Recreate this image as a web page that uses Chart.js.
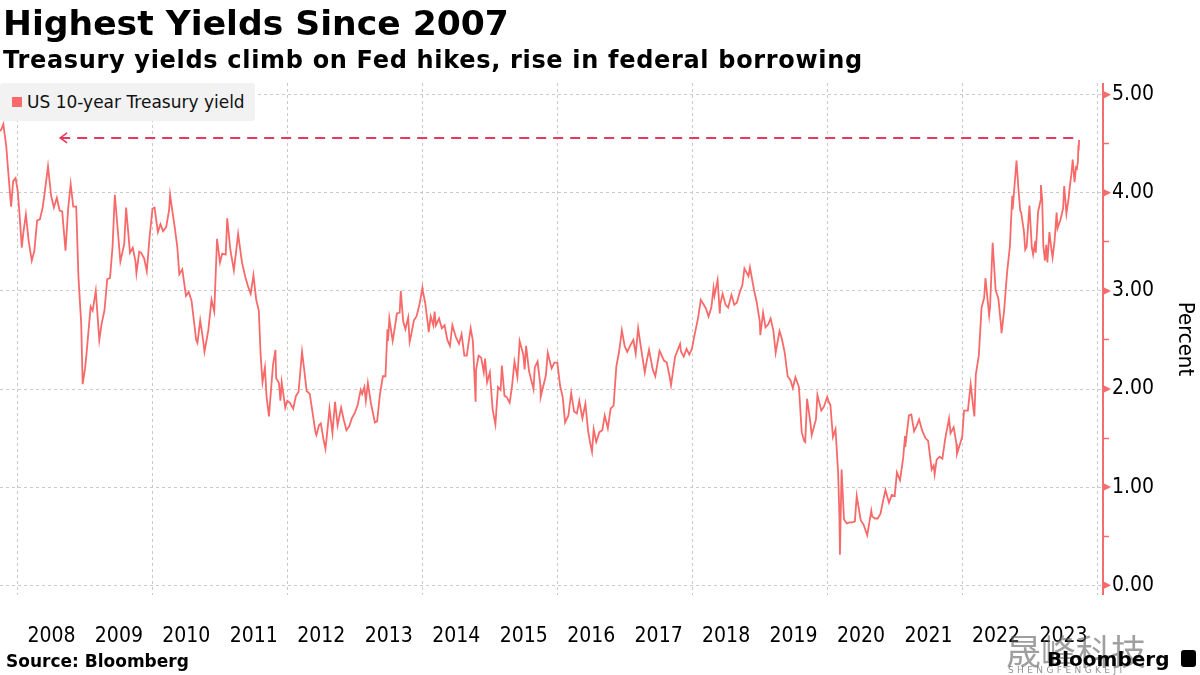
<!DOCTYPE html>
<html>
<head>
<meta charset="utf-8">
<script src="https://cdn.jsdelivr.net/npm/chart.js@4/dist/chart.umd.min.js"></script>
<style>
  body { margin: 0; width: 1200px; height: 675px; overflow: hidden; background: #fff; position: relative; font-family: "DejaVu Sans", sans-serif; }
  #chart { position: absolute; left: 0; top: 0; }
  .abs { position: absolute; white-space: nowrap; color: #000; }
  #title { left: 3px; top: 3px; font-size: 34.6px; line-height: 40px; font-weight: bold; }
  #subtitle { left: 3px; top: 46px; font-size: 24px; line-height: 28px; font-weight: bold; letter-spacing: 0.68px; }
  #legend { left: 0; top: 83px; width: 255px; height: 38px; background: #f2f2f2; border-radius: 3px; }
  #legend .sw { position: absolute; left: 12px; top: 14px; width: 10px; height: 10px; background: #f86a6a; }
  #legend .tx { position: absolute; left: 27px; top: 8px; font-size: 17px; line-height: 22px; color: #111; }
  #source { left: 6px; top: 651px; font-size: 17px; line-height: 20px; font-weight: bold; }
  #logo { left: 1047px; top: 648px; font-size: 20px; line-height: 22px; font-weight: bold; }
  #icon { left: 1181px; top: 650px; width: 15px; height: 17px; background: #000; border-radius: 3px; }
  #wm { left: 1006px; top: 630px; font-size: 35px; line-height: 40px; color: rgba(95,95,95,0.6); font-family: "Noto Sans CJK SC", sans-serif; }
  #wm2 { left: 1008px; top: 665px; font-size: 9px; line-height: 11px; letter-spacing: 3.4px; color: rgba(110,110,110,0.75); }
</style>
</head>
<body>
<canvas id="chart" width="1200" height="675"></canvas>
<div class="abs" id="title">Highest Yields Since 2007</div>
<div class="abs" id="subtitle">Treasury yields climb on Fed hikes, rise in federal borrowing</div>
<div class="abs" id="legend"><div class="sw"></div><div class="tx">US 10-year Treasury yield</div></div>
<div class="abs" id="source">Source: Bloomberg</div>
<div class="abs" id="wm">晟峰科技</div>
<div class="abs" id="wm2">SHENGFENGKEJI</div>
<div class="abs" id="logo">Bloomberg</div>
<div class="abs" id="icon"></div>
<script>
// US 10-year Treasury yield, percent
const dates = [
  '2007-09-26','2007-10-05','2007-10-15','2007-10-31','2007-11-08','2007-11-26','2007-12-07','2007-12-20','2007-12-31',
  '2008-01-10','2008-01-23','2008-01-31','2008-02-14','2008-02-29','2008-03-17','2008-03-31','2008-04-15','2008-04-30','2008-05-15','2008-05-30','2008-06-13','2008-06-30','2008-07-15','2008-07-31','2008-08-15','2008-08-29','2008-09-16','2008-09-30','2008-10-14','2008-10-28','2008-11-13','2008-11-25','2008-12-10','2008-12-18','2008-12-31',
  '2009-01-09','2009-01-30','2009-02-10','2009-02-27','2009-03-18','2009-03-31','2009-04-15','2009-04-30','2009-05-15','2009-05-29','2009-06-10','2009-06-30','2009-07-10','2009-07-31','2009-08-10','2009-08-31','2009-09-15','2009-09-30','2009-10-05','2009-10-20','2009-10-30','2009-11-16','2009-11-30','2009-12-15','2009-12-31',
  '2010-01-11','2010-01-29','2010-02-12','2010-02-26','2010-03-15','2010-03-31','2010-04-05','2010-04-20','2010-04-30','2010-05-14','2010-05-25','2010-06-10','2010-06-30','2010-07-15','2010-07-30','2010-08-13','2010-08-24','2010-08-31','2010-09-15','2010-09-30','2010-10-08','2010-10-29','2010-11-15','2010-11-30','2010-12-15','2010-12-31',
  '2011-01-12','2011-01-31','2011-02-08','2011-02-25','2011-03-16','2011-03-31','2011-04-08','2011-04-29','2011-05-16','2011-05-31','2011-06-15','2011-06-30','2011-07-15','2011-07-29','2011-08-08','2011-08-18','2011-08-31','2011-09-09','2011-09-22','2011-09-30','2011-10-14','2011-10-27','2011-10-31','2011-11-15','2011-11-23','2011-11-30','2011-12-19','2011-12-30',
  '2012-01-13','2012-01-31','2012-02-15','2012-02-29','2012-03-19','2012-03-30','2012-04-13','2012-04-30','2012-05-15','2012-05-31','2012-06-05','2012-06-19','2012-06-29','2012-07-13','2012-07-24','2012-07-31','2012-08-15','2012-08-31','2012-09-14','2012-09-28','2012-10-17','2012-10-31','2012-11-15','2012-11-30','2012-12-14','2012-12-31',
  '2013-01-15','2013-01-31','2013-02-08','2013-02-20','2013-02-28','2013-03-11','2013-03-28','2013-04-18','2013-04-30','2013-05-15','2013-05-31','2013-06-14','2013-06-25','2013-06-28','2013-07-05','2013-07-23','2013-07-31','2013-08-15','2013-08-30','2013-09-05','2013-09-18','2013-09-30','2013-10-15','2013-10-23','2013-10-31','2013-11-15','2013-11-29','2013-12-16','2013-12-31',
  '2014-01-02','2014-01-15','2014-01-31','2014-02-03','2014-02-14','2014-02-28','2014-03-07','2014-03-14','2014-03-31','2014-04-15','2014-04-30','2014-05-15','2014-05-29','2014-06-11','2014-06-30','2014-07-17','2014-07-31','2014-08-15','2014-08-28','2014-09-18','2014-09-30','2014-10-15','2014-10-17','2014-10-31','2014-11-14','2014-11-28','2014-12-05','2014-12-16','2014-12-31',
  '2015-01-15','2015-01-30','2015-02-13','2015-02-27','2015-03-06','2015-03-20','2015-03-31','2015-04-17','2015-04-30','2015-05-13','2015-05-29','2015-06-10','2015-06-30','2015-07-07','2015-07-15','2015-07-31','2015-08-24','2015-08-31','2015-09-15','2015-09-30','2015-10-02','2015-10-30','2015-11-09','2015-11-30','2015-12-15','2015-12-31',
  '2016-01-15','2016-01-29','2016-02-11','2016-02-29','2016-03-15','2016-03-31','2016-04-15','2016-04-28','2016-05-15','2016-05-31','2016-06-15','2016-06-27','2016-07-06','2016-07-15','2016-07-29','2016-08-15','2016-08-31','2016-09-13','2016-09-30','2016-10-15','2016-10-31','2016-11-09','2016-11-15','2016-11-30','2016-12-15','2016-12-30',
  '2017-01-13','2017-01-31','2017-02-15','2017-02-28','2017-03-13','2017-03-31','2017-04-18','2017-04-28','2017-05-11','2017-05-31','2017-06-14','2017-06-30','2017-07-07','2017-07-31','2017-08-15','2017-08-31','2017-09-07','2017-09-29','2017-10-26','2017-10-31','2017-11-15','2017-11-30','2017-12-15','2017-12-29',
  '2018-01-12','2018-01-31','2018-02-15','2018-02-28','2018-03-15','2018-03-29','2018-04-13','2018-04-25','2018-04-30','2018-05-17','2018-05-29','2018-05-31','2018-06-13','2018-06-29','2018-07-13','2018-07-31','2018-08-15','2018-08-29','2018-09-14','2018-09-28','2018-10-09','2018-10-31','2018-11-08','2018-11-30','2018-12-14','2018-12-31',
  '2019-01-03','2019-01-18','2019-01-31','2019-02-15','2019-02-28','2019-03-15','2019-03-27','2019-04-17','2019-04-30','2019-05-15','2019-05-31','2019-06-15','2019-06-28','2019-07-12','2019-07-31','2019-08-15','2019-08-28','2019-09-03','2019-09-13','2019-09-30','2019-10-08','2019-10-31','2019-11-08','2019-11-29','2019-12-13','2019-12-31',
  '2020-01-08','2020-01-17','2020-01-31','2020-02-14','2020-02-28','2020-03-06','2020-03-09','2020-03-18','2020-03-31','2020-04-15','2020-04-30','2020-05-15','2020-05-29','2020-06-08','2020-06-30','2020-07-15','2020-07-31','2020-08-04','2020-08-26','2020-08-31','2020-09-15','2020-09-30','2020-10-15','2020-10-30','2020-11-11','2020-11-30','2020-12-15','2020-12-31',
  '2021-01-12','2021-01-29','2021-02-15','2021-02-25','2021-02-26','2021-03-18','2021-03-31','2021-04-15','2021-04-30','2021-05-12','2021-05-28','2021-06-15','2021-06-30','2021-07-19','2021-07-30','2021-08-04','2021-08-15','2021-08-31','2021-09-15','2021-09-30','2021-10-21','2021-10-29','2021-11-15','2021-11-30','2021-12-03','2021-12-31',
  '2022-01-10','2022-01-31','2022-02-15','2022-02-28','2022-03-07','2022-03-15','2022-03-31','2022-04-15','2022-04-29','2022-05-06','2022-05-26','2022-05-31','2022-06-14','2022-06-30','2022-07-15','2022-07-29','2022-08-01','2022-08-15','2022-08-31','2022-09-15','2022-09-28','2022-09-30','2022-10-21','2022-10-31','2022-11-10','2022-11-15','2022-11-30','2022-12-07','2022-12-15','2022-12-30',
  '2023-01-12','2023-01-19','2023-01-31','2023-02-02','2023-02-15','2023-02-28','2023-03-02','2023-03-09','2023-03-15','2023-03-24','2023-03-31','2023-04-06','2023-04-17','2023-04-28','2023-05-04','2023-05-15','2023-05-26','2023-05-31','2023-06-15','2023-06-30','2023-07-06','2023-07-18','2023-07-31','2023-08-04','2023-08-15','2023-08-21','2023-08-31','2023-09-08','2023-09-13','2023-09-18','2023-09-21','2023-09-22','2023-09-25'
];
const yields = [
  4.63,4.65,4.70,4.47,4.27,3.86,4.12,4.15,4.03,
  3.80,3.44,3.59,3.78,3.51,3.31,3.41,3.72,3.73,3.85,4.06,4.27,3.97,3.85,3.95,3.82,3.81,3.41,3.83,4.09,3.86,3.86,3.15,2.67,2.05,2.21,
  2.38,2.84,2.80,3.00,2.50,2.67,2.80,3.12,3.13,3.46,3.98,3.53,3.30,3.48,3.85,3.39,3.44,3.30,3.18,3.40,3.39,3.33,3.20,3.55,3.84,
  3.85,3.60,3.68,3.61,3.65,3.83,3.98,3.78,3.65,3.45,3.17,3.22,2.95,2.99,2.90,2.68,2.50,2.47,2.70,2.51,2.38,2.60,2.91,2.79,3.53,3.29,
  3.38,3.37,3.74,3.42,3.21,3.45,3.58,3.29,3.15,3.05,2.97,3.16,2.91,2.80,2.34,2.07,2.22,1.92,1.72,1.92,2.25,2.40,2.11,2.06,1.88,2.07,1.81,1.88,
  1.86,1.80,1.93,1.97,2.38,2.21,1.98,1.95,1.76,1.56,1.53,1.63,1.65,1.49,1.39,1.51,1.80,1.55,1.87,1.63,1.81,1.69,1.58,1.62,1.70,1.76,
  1.84,1.99,1.95,2.02,1.88,2.06,1.85,1.66,1.67,1.94,2.13,2.13,2.61,2.49,2.72,2.49,2.58,2.77,2.78,3.00,2.69,2.61,2.73,2.48,2.55,2.70,2.74,2.87,3.03,
  3.00,2.88,2.64,2.58,2.74,2.65,2.79,2.65,2.72,2.62,2.65,2.50,2.44,2.65,2.53,2.46,2.56,2.34,2.34,2.62,2.49,1.87,2.19,2.34,2.32,2.17,2.31,2.07,2.17,
  1.79,1.64,2.02,1.99,2.24,1.93,1.92,1.86,2.03,2.28,2.12,2.49,2.35,2.20,2.44,2.18,2.00,2.22,2.28,2.04,1.92,2.14,2.37,2.21,2.27,2.27,
  2.03,1.92,1.66,1.73,1.96,1.77,1.75,1.88,1.70,1.85,1.57,1.44,1.36,1.59,1.46,1.56,1.58,1.73,1.60,1.80,1.83,2.07,2.23,2.38,2.60,2.44,
  2.38,2.45,2.50,2.36,2.62,2.39,2.17,2.28,2.40,2.20,2.13,2.31,2.39,2.29,2.27,2.12,2.04,2.33,2.46,2.38,2.33,2.41,2.35,2.41,
  2.55,2.72,2.91,2.87,2.82,2.74,2.83,3.03,2.95,3.11,2.77,2.86,2.97,2.86,2.83,2.96,2.86,2.88,2.99,3.06,3.23,3.15,3.24,3.01,2.89,2.69,
  2.55,2.78,2.63,2.66,2.72,2.59,2.37,2.59,2.51,2.37,2.13,2.09,2.01,2.12,2.02,1.56,1.47,1.46,1.90,1.67,1.53,1.69,1.94,1.78,1.82,1.92,
  1.87,1.84,1.51,1.59,1.15,0.71,0.31,1.18,0.67,0.63,0.64,0.64,0.65,0.91,0.66,0.62,0.53,0.51,0.76,0.70,0.68,0.68,0.73,0.87,0.97,0.84,0.92,0.91,
  1.15,1.07,1.30,1.52,1.41,1.73,1.74,1.57,1.63,1.69,1.58,1.50,1.47,1.18,1.22,1.13,1.28,1.31,1.29,1.49,1.70,1.55,1.61,1.44,1.34,1.51,
  1.78,1.78,2.05,1.83,1.72,2.15,2.34,2.83,2.93,3.13,2.75,2.84,3.49,3.01,2.92,2.65,2.57,2.80,3.19,3.45,3.97,3.83,4.33,4.05,3.82,3.80,3.61,3.42,3.45,3.87,
  3.44,3.37,3.51,3.39,3.81,3.92,4.08,3.93,3.46,3.31,3.47,3.29,3.60,3.42,3.34,3.51,3.80,3.64,3.72,3.84,4.07,3.79,3.96,4.04,4.21,4.34,4.11,4.26,4.25,4.32,4.49,4.43,4.54
];
const yearLabels = ['2008','2009','2010','2011','2012','2013','2014','2015','2016','2017','2018','2019','2020','2021','2022','2023'];
const yTickValues = [0, 0.5, 1, 1.5, 2, 2.5, 3, 3.5, 4, 4.5, 5];
const recordLevel = 4.56;          // dashed "highest since 2007" marker
const recordArrowFrom = '2008-08-18';

const LINE_RED = '#f86a6a';
const DASH_RED = '#e5395d';
const AXIS_RED = '#f26d6d';
const GRID = '#c9c9c9';
const TICK_FONT = '"DejaVu Sans Condensed", "Liberation Sans", sans-serif';

// date string -> fractional year, so the x axis is a plain linear scale
function toYear(s) {
  const d = new Date(s + 'T12:00:00Z');
  const y = d.getUTCFullYear();
  const start = Date.UTC(y, 0, 1), end = Date.UTC(y + 1, 0, 1);
  return y + (d.getTime() - start) / (end - start);
}

const series = dates.map((d, i) => ({ x: toYear(d), y: yields[i] }));
const recordLine = [
  { x: toYear(recordArrowFrom), y: recordLevel },
  { x: toYear(dates[dates.length - 1]), y: recordLevel }
];

const firstYear = +yearLabels[0];
const xTicks = [];
for (let y = firstYear; y <= firstYear + yearLabels.length; y++) {
  xTicks.push({ value: y });
  if (y < firstYear + yearLabels.length) xTicks.push({ value: y + 0.5 });
}

const axisMarks = {
  id: 'axisMarks',
  afterDraw(chart) {
    const { ctx, chartArea, scales } = chart;
    const ys = scales.y;
    const x0 = chartArea.right;
    ctx.save();
    // right axis line
    ctx.strokeStyle = AXIS_RED;
    ctx.lineWidth = 2;
    ctx.beginPath();
    ctx.moveTo(x0, chartArea.top);
    ctx.lineTo(x0, chartArea.bottom);
    ctx.stroke();
    // triangles on whole-number ticks
    ctx.fillStyle = AXIS_RED;
    yTickValues.filter(v => Number.isInteger(v)).forEach(v => {
      const py = ys.getPixelForValue(v);
      ctx.beginPath();
      ctx.moveTo(x0, py - 4);
      ctx.lineTo(x0 + 8, py);
      ctx.lineTo(x0, py + 4);
      ctx.closePath();
      ctx.fill();
    });
    // arrow head on the left end of the dashed record line
    const p = chart.getDatasetMeta(1).data[0];
    ctx.strokeStyle = DASH_RED;
    ctx.lineWidth = 1.6;
    ctx.beginPath();
    ctx.moveTo(p.x + 7, p.y - 5);
    ctx.lineTo(p.x, p.y);
    ctx.lineTo(p.x + 7, p.y + 5);
    ctx.stroke();
    ctx.restore();
  }
};

new Chart(document.getElementById('chart'), {
  type: 'line',
  data: {
    datasets: [
      {
        label: 'US 10-year Treasury yield',
        data: series,
        borderColor: LINE_RED,
        borderWidth: 1.8,
        pointRadius: 0,
        tension: 0
      },
      {
        label: 'record',
        data: recordLine,
        borderColor: DASH_RED,
        borderWidth: 2,
        borderDash: [10, 7],
        pointRadius: 0
      }
    ]
  },
  options: {
    responsive: false,
    animation: false,
    devicePixelRatio: 1,
    layout: { autoPadding: false, padding: { top: 83, left: 0, right: 0, bottom: 0 } },
    plugins: {
      legend: { display: false },
      tooltip: { enabled: false }
    },
    scales: {
      x: {
        type: 'linear',
        min: 2007.738,
        max: 2024.086,
        afterBuildTicks: s => { s.ticks = xTicks.map(t => ({ value: t.value })); },
        afterFit: s => { s.height = 80; s.paddingLeft = 0; s.paddingRight = 0; },
        grid: {
          drawTicks: false,
          lineWidth: 1,
          color: c => (c.tick && Number.isInteger(c.tick.value) && c.tick.value % 2 === 0) ? GRID : 'rgba(0,0,0,0)'
        },
        border: { display: false, dash: [3, 3] },
        ticks: {
          autoSkip: false,
          maxRotation: 0,
          padding: 29,
          color: '#000',
          font: { family: TICK_FONT, size: 21 },
          callback: v => {
            const i = Math.floor(v) - firstYear;
            return (Math.abs(v % 1 - 0.5) < 1e-6 && yearLabels[i]) ? yearLabels[i] : '';
          }
        }
      },
      y: {
        position: 'right',
        min: -0.1,
        max: 5.12,
        afterBuildTicks: s => { s.ticks = yTickValues.map(v => ({ value: v })); },
        afterFit: s => { s.width = 97; s.paddingTop = 0; s.paddingBottom = 0; },
        grid: {
          drawTicks: true,
          tickLength: 6,
          tickColor: AXIS_RED,
          tickWidth: 1.5,
          lineWidth: 1,
          color: c => (c.tick && Number.isInteger(c.tick.value)) ? GRID : 'rgba(0,0,0,0)'
        },
        border: { display: false, dash: [3, 3] },
        ticks: {
          padding: 3,
          color: '#000',
          font: { family: TICK_FONT, size: 21 },
          callback: v => Number.isInteger(v) ? v.toFixed(2) : ''
        },
        title: {
          display: true,
          text: 'Percent',
          color: '#000',
          font: { family: TICK_FONT, size: 22 },
          padding: { top: 2, bottom: 0 }
        }
      }
    }
  },
  plugins: [axisMarks]
});
</script>
</body>
</html>
